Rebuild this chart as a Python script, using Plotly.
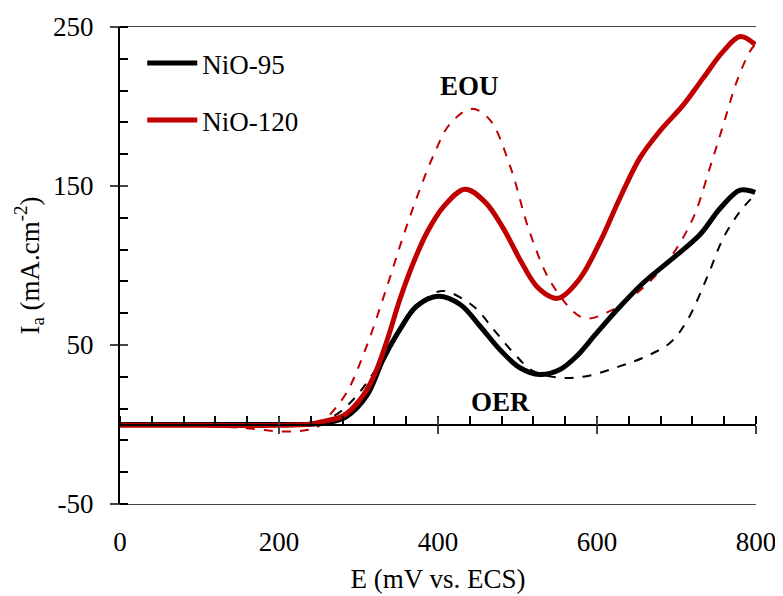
import plotly.graph_objects as go

# ---- data ----
nio95_x = [0, 100, 200, 240, 262, 285, 310, 331, 352, 373, 400.5, 428, 453, 478, 503, 528,
           553.5, 574.5, 597, 625, 658, 696, 729.6, 755, 780, 799]
nio95_y = [0, 0, 0, 0.2, 1.2, 5, 17.8, 41, 59.7, 74.4, 80.7, 75.5, 61.8, 47, 35.7, 31.4,
           34.6, 43, 56, 72, 89, 104.8, 119.5, 136, 147.4, 146]

nio95b_x = [0, 100, 200, 240, 268, 293.5, 319, 342, 367, 390, 407, 444.5, 470, 495, 520,
            553.5, 587, 629, 662.5, 692, 713, 738, 759, 780, 799]
nio95b_y = [0, 0, 0, 0.5, 5, 15.7, 32.5, 51, 70, 81, 84, 74.4, 59.7, 45, 33.5,
            29.4, 30.4, 36.7, 43, 51.4, 65, 92, 117.4, 134, 144.7]

nio120_x = [0, 100, 200, 240, 256, 281, 302, 319, 336, 352, 369, 386, 407, 434, 459, 482, 503, 524,
            545, 553.5, 578.7, 604, 629, 654, 679, 708.6, 733.7, 759, 780, 799]
nio120_y = [-0.5, -0.5, -0.5, 0.3, 2, 5.5, 15.7, 30, 53, 78.6, 101.7, 120.6, 137, 148, 140, 123.5, 103.8, 87,
            79.7, 79.7, 92, 115, 142.6, 167.7, 184.5, 201, 218, 234.8, 244, 239]

nio120b_x = [0, 100, 150, 205, 235, 250, 262, 285, 310, 336, 356, 375, 395, 415, 442, 465, 491,
             516, 545, 583, 616, 658, 692, 721, 742, 759, 776, 792.5, 799]
nio120b_y = [-0.5, -0.8, -2, -4.4, -3.5, -1, 5, 20, 49, 87, 118, 145, 170, 189, 198.5, 191.8, 162,
             120, 87, 67, 71.3, 86, 104.8, 130, 161.5, 188.7, 216, 234.8, 239]

x_ticks = [0, 200, 400, 600, 800]
y_ticks = [-50, 50, 150, 250]
y_ticktext = ["-50", "50", "150", "250"]

FONT = "Liberation Serif"
FS = 27
RED = "#C00000"

fig = go.Figure()
fig.add_trace(go.Scatter(x=nio95b_x, y=nio95b_y, mode="lines", line=dict(color="black", width=2, dash="dash", shape="spline"),
                         showlegend=False))
fig.add_trace(go.Scatter(x=nio120b_x, y=nio120b_y, mode="lines", line=dict(color=RED, width=2, dash="dash", shape="spline"),
                         showlegend=False))
fig.add_trace(go.Scatter(x=nio95_x, y=nio95_y, mode="lines", name="NiO-95",
                         line=dict(color="black", width=5, shape="spline"), legendgroup="a"))
fig.add_trace(go.Scatter(x=nio120_x, y=nio120_y, mode="lines", name="NiO-120",
                         line=dict(color=RED, width=5, shape="spline"), legendgroup="b"))

# helper traces so that overlay axes are drawn
fig.add_trace(go.Scatter(x=[None], y=[None], xaxis="x2", yaxis="y2", showlegend=False, hoverinfo="skip"))
fig.add_trace(go.Scatter(x=[None], y=[None], xaxis="x3", yaxis="y3", showlegend=False, hoverinfo="skip"))

# the page adds an 8px body margin, so margins are shifted by 8px
fig.update_layout(
    width=783, height=596,
    margin=dict(l=112, r=35, t=19, b=100, autoexpand=False),
    paper_bgcolor="white", plot_bgcolor="white",
    font=dict(family=FONT, size=FS, color="black"),
    showlegend=True,
    legend=dict(x=0.035, y=0.975, xanchor="left", yanchor="top", bgcolor="rgba(0,0,0,0)",
                font=dict(family=FONT, size=FS), tracegroupgap=19, itemwidth=50),
    xaxis=dict(range=[0, 800], tickvals=x_ticks, ticks="", showgrid=False, zeroline=False,
               showline=True, linecolor="#444", linewidth=1, mirror=True,
               tickfont=dict(family=FONT, size=FS), ticklabelstandoff=14,
               title=dict(text="E (mV vs. ECS)", font=dict(family=FONT, size=FS), standoff=12)),
    yaxis=dict(range=[-50, 250], tickvals=y_ticks, ticktext=y_ticktext, ticks="outside", ticklen=8, tickwidth=2,
               showgrid=False, zeroline=False, showline=True, linecolor="black", linewidth=2,
               tickfont=dict(family=FONT, size=FS), ticklabelstandoff=11,
               minor=dict(dtick=20, tick0=-50, ticks="inside", ticklen=8, tickwidth=1.5, tickcolor="black", showgrid=False),
               title=dict(text="I<sub>a</sub> (mA.cm<sup>-2</sup>)", font=dict(family=FONT, size=FS), standoff=6)),
    yaxis2=dict(range=[-50, 250], overlaying="y", anchor="x", side="left", tickvals=y_ticks, ticks="inside",
                ticklen=8, tickwidth=2, showticklabels=False, showgrid=False, zeroline=False, showline=False),
    # axis line at y = 0 with ticks
    xaxis2=dict(range=[0, 800], overlaying="x", anchor="free", position=1/6, side="bottom",
                tickvals=[200, 400, 600, 800], ticks="outside", ticklen=8, tickwidth=2, showticklabels=False,
                showgrid=False, zeroline=False, showline=True, linecolor="black", linewidth=2,
                minor=dict(dtick=40, tick0=0, ticks="inside", ticklen=8, tickwidth=1.5, tickcolor="black", showgrid=False)),
    xaxis3=dict(range=[0, 800], overlaying="x", anchor="free", position=1/6, side="bottom",
                tickvals=[200, 400, 600, 800], ticks="inside", ticklen=8, tickwidth=2, showticklabels=False,
                showgrid=False, zeroline=False, showline=False),
    yaxis3=dict(range=[-50, 250], overlaying="y", visible=False),
    annotations=[
        dict(x=440, y=213, xref="x", yref="y", text="<b>EOU</b>", showarrow=False,
             font=dict(family=FONT, size=FS, color="black")),
        dict(x=478, y=14, xref="x", yref="y", text="<b>OER</b>", showarrow=False,
             font=dict(family=FONT, size=FS, color="black")),
    ],
)

fig.write_html("out.html")
